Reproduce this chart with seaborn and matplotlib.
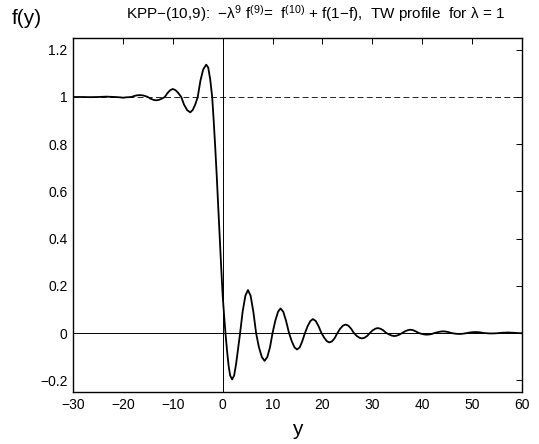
import matplotlib
matplotlib.use("Agg")
import matplotlib.pyplot as plt
import seaborn as sns
import pandas as pd

# ---- data ----
y_left = [-30.0, -28.0, -26.6, -25.0, -23.3, -21.6, -20.5, -20.0, -19.4, -18.3,
          -17.75, -17.2, -16.6, -16.05, -15.5, -15.0, -14.45, -13.9, -13.3, -12.75,
          -12.2, -11.6, -11.05, -10.5, -10.0, -9.45, -8.9, -8.3, -7.75, -7.1,
          -6.5, -6.0, -5.5, -5.0, -4.45, -3.9, -3.3, -2.9, -2.5, -2.1,
          -1.8, -1.5, -1.2, -0.9, -0.6, -0.3]
f_left = [1.0, 1.0, 0.9993, 1.0, 1.0015, 1.0, 0.9985, 0.997, 0.9985, 1.0,
          1.004, 1.007, 1.008, 1.007, 1.004, 1.0, 0.993, 0.988, 0.986, 0.988,
          0.993, 1.0, 1.017, 1.029, 1.034, 1.029, 1.017, 1.0, 0.968, 0.944,
          0.935, 0.945, 0.968, 1.0, 1.07, 1.117, 1.137, 1.125, 1.075, 1.0,
          0.90, 0.79, 0.67, 0.54, 0.41, 0.28]

y_right = [0.0, 0.3, 0.6, 0.9, 1.2, 1.5, 1.9, 2.3, 2.7, 3.1, 3.5,
           4.0, 4.55, 5.07, 5.6, 6.15, 6.7,
           7.25, 7.85, 8.4, 8.95, 9.5, 10.0,
           10.55, 11.1, 11.6, 12.15, 12.7, 13.3,
           13.85, 14.4, 14.9, 15.45, 15.95, 16.5,
           17.05, 17.6, 18.1, 18.65, 19.2, 19.8,
           20.35, 20.9, 21.4, 21.95, 22.5, 23.0,
           23.55, 24.1, 24.65, 25.2, 25.75, 26.3,
           26.85, 27.4, 27.9, 28.45, 29.0, 29.5,
           30.05, 30.6, 31.1, 31.65, 32.2, 32.8,
           33.35, 33.9, 34.4, 34.95, 35.5, 36.0,
           36.55, 37.1, 37.6, 38.15, 38.7, 39.3,
           39.85, 40.4, 40.9, 41.45, 42.0, 42.5,
           43.1, 43.65, 44.2, 44.75, 45.3, 45.8,
           46.35, 46.9, 47.4, 47.95, 48.5, 49.0,
           49.55, 50.1, 50.7, 51.25, 51.8, 52.3,
           52.85, 53.4, 53.9, 54.45, 55.0, 55.5,
           56.05, 56.6, 57.2, 57.75, 58.3, 58.8, 60.0]
f_right = [0.16, 0.07, -0.01, -0.08, -0.14, -0.18, -0.197, -0.18, -0.13, -0.065, 0.0,
           0.09, 0.158, 0.182, 0.158, 0.09, 0.0,
           -0.059, -0.102, -0.118, -0.102, -0.059, 0.0,
           0.052, 0.09, 0.104, 0.09, 0.052, 0.0,
           -0.035, -0.061, -0.070, -0.061, -0.035, 0.0,
           0.030, 0.051, 0.059, 0.051, 0.030, 0.0,
           -0.020, -0.035, -0.040, -0.035, -0.020, 0.0,
           0.018, 0.031, 0.036, 0.031, 0.018, 0.0,
           -0.012, -0.020, -0.023, -0.020, -0.012, 0.0,
           0.011, 0.018, 0.021, 0.018, 0.011, 0.0,
           -0.006, -0.011, -0.013, -0.011, -0.006, 0.0,
           0.007, 0.012, 0.014, 0.012, 0.007, 0.0,
           -0.0035, -0.006, -0.007, -0.006, -0.0035, 0.0,
           0.0035, 0.006, 0.007, 0.006, 0.0035, 0.0,
           -0.002, -0.0035, -0.004, -0.0035, -0.002, 0.0,
           0.002, 0.0035, 0.004, 0.0035, 0.002, 0.0,
           -0.001, -0.0017, -0.002, -0.0017, -0.001, 0.0,
           0.001, 0.0017, 0.002, 0.0017, 0.001, 0.0, -0.001]

x_ticks = [-30, -20, -10, 0, 10, 20, 30, 40, 50, 60]
y_ticks = [-0.2, 0, 0.2, 0.4, 0.6, 0.8, 1, 1.2]
y_ticklabels = ["\u22120.2", "0", "0.2", "0.4", "0.6", "0.8", "1", "1.2"]
x_ticklabels = ["\u221230", "\u221220", "\u221210", "0", "10", "20", "30", "40", "50", "60"]

title_text = ("KPP\u2212(10,9):  \u2212\u03bb$^{9}$ f$^{(9)}$=  f$^{(10)}$ + f(1\u2212f),"
              "  TW profile  for \u03bb = 1")

df = pd.DataFrame({"y": y_left + y_right, "f": f_left + f_right})

# ---- styling ----
sns.set_theme(style="white")
plt.rcParams["font.family"] = ["Liberation Sans", "DejaVu Sans"]
plt.rcParams["mathtext.fontset"] = "custom"
plt.rcParams["mathtext.rm"] = "Liberation Sans"
plt.rcParams["mathtext.it"] = "Liberation Sans"
plt.rcParams["mathtext.default"] = "regular"
plt.rcParams["text.color"] = "black"
plt.rcParams["axes.labelcolor"] = "black"

fig = plt.figure(figsize=(5.39, 4.44), dpi=100)
ax = fig.add_axes([73 / 539, 52 / 444, 449 / 539, 354 / 444])

ax.axhline(1, color="black", lw=0.6, ls=(0, (7, 4)), zorder=1)
ax.axhline(0, color="black", lw=0.7, zorder=1)
ax.axvline(0, color="black", lw=0.7, zorder=1)

sns.lineplot(data=df, x="y", y="f", ax=ax, color="black", lw=1.3,
             sort=False, estimator=None, zorder=3)

ax.set_xlim(-30, 60)
ax.set_ylim(-0.25, 1.25)
ax.set_xticks(x_ticks)
ax.set_xticklabels(x_ticklabels)
ax.set_yticks(y_ticks)
ax.set_yticklabels(y_ticklabels)
ax.tick_params(direction="in", length=4, width=0.7, top=True, right=True,
               labelsize=10, colors="black", pad=4)
for s in ax.spines.values():
    s.set_color("black")
    s.set_linewidth(1.0)
    s.set_visible(True)

ax.set_xlabel("y", fontsize=15, labelpad=6, color="black")
ax.set_ylabel("")
fig.text(12 / 539, 1 - 19 / 444, "f(y)", fontsize=15, ha="left", va="center", color="black")
fig.text(316 / 539, 1 - 14 / 444, title_text, fontsize=11, ha="center", va="center",
         color="black")

fig.savefig("out.png", dpi=100)
